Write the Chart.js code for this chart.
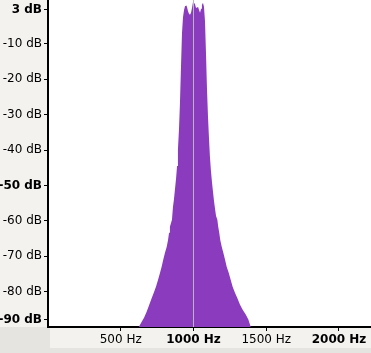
<!DOCTYPE html>
<html>
<head>
<meta charset="utf-8">
<script src="https://cdn.jsdelivr.net/npm/chart.js@4.4.1/dist/chart.umd.min.js"></script>
<style>
  html, body { margin: 0; padding: 0; background: #e6e4e1; }
  canvas { display: block; }
</style>
</head>
<body>
<canvas id="canvas" width="371" height="353"></canvas>
<script>
// spectrum: frequency (Hz) and level (dB)
var freqs = [615, 625, 644, 660, 678, 696, 713, 729, 742, 756, 770, 781, 792, 804, 816, 825, 832, 838, 852, 859,
  866, 873, 880, 887, 893, 900, 907, 914, 921, 928, 935, 942, 948, 955, 962, 969, 976, 983, 990, 997,
  1003, 1010, 1017, 1024, 1031, 1038, 1045, 1052, 1058, 1065, 1072, 1079, 1086, 1093, 1100, 1107, 1113, 1120, 1127, 1134,
  1141, 1148, 1155, 1164, 1170, 1177, 1184, 1194, 1205, 1217, 1228, 1242, 1256, 1269, 1285, 1301, 1320, 1338, 1359, 1377,
  1393, 1403];
var levels = [-92, -89.9, -88.5, -87.4, -85.7, -83.7, -81.8, -80.1, -78.6, -76.7, -74.7, -73.0, -71.0, -69.0, -67.3, -65.4, -63.4, -61.7, -59.7, -56.0,
  -53.8, -50.9, -48.1, -44.5, -39.9, -34.3, -26.7, -16.5, -6.9, -2.4, -0.4, 0.7, 1.0, 0.5, -0.7, -1.5, -1.8, -1.2, 0.2, 1.9,
  1.9, 1.3, 0.2, 0.2, 0.5, -0.4, -1.2, -0.1, 1.0, 1.6, 0.5, -3.5, -12.8, -23.0, -30.9, -37.1, -41.9, -45.9, -49.0, -51.8,
  -54.4, -56.6, -58.6, -59.7, -61.7, -63.4, -65.4, -67.3, -69.0, -71.0, -73.0, -74.7, -76.7, -78.6, -80.3, -81.8, -83.7, -85.1, -86.5, -87.9,
  -89.9, -92];

var cursorFreq = 1000;

var xTicks = [500, 1000, 1500, 2000];
var xBold = [1000, 2000];
var yTicks = [-0.4, -10, -20, -30, -40, -50, -60, -70, -80, -87.9];
var yLabels = ['3 dB', '-10 dB', '-20 dB', '-30 dB', '-40 dB', '-50 dB', '-60 dB', '-70 dB', '-80 dB', '-90 dB'];
var yBold = ['3 dB', '-50 dB', '-90 dB'];

var yMin = -90, yMax = 2.4;
var xMin = 0, xMax = 2220;

function yLabel(v) {
  var i = yTicks.indexOf(v);
  return i >= 0 ? yLabels[i] : '';
}

var panels = {
  id: 'panels',
  beforeDraw: function(chart) {
    var c = chart.ctx, a = chart.chartArea;
    c.save();
    c.fillStyle = '#e6e4e1';
    c.fillRect(0, 0, chart.width, chart.height);
    c.fillStyle = '#f4f2ef';
    c.fillRect(0, 0, a.left, a.bottom);
    c.fillRect(a.left + 2, a.bottom, a.right - a.left, 21);
    c.fillStyle = '#ffffff';
    c.fillRect(a.left, a.top, a.right - a.left, a.bottom - a.top);
    c.restore();
  }
};

function printChart() {
  var ctx = document.getElementById('canvas').getContext('2d');
  var spectrum = freqs.map(function(f, i) { return { x: f, y: levels[i] }; });

  new Chart(ctx, {
    type: 'line',
    data: {
      datasets: [{
        data: spectrum,
        backgroundColor: '#8a3bbe',
        borderColor: '#8a3bbe',
        borderWidth: 0,
        pointRadius: 0,
        fill: 'start',
        order: 2
      }, {
        data: [{ x: cursorFreq, y: yMin }, { x: cursorFreq, y: yMax }],
        borderColor: '#bcb6c2',
        borderWidth: 1,
        pointRadius: 0,
        fill: false,
        order: 1
      }]
    },
    options: {
      responsive: false,
      animation: false,
      devicePixelRatio: 1,
      layout: { padding: 0 },
      plugins: { legend: { display: false }, tooltip: { enabled: false } },
      scales: {
        x: {
          type: 'linear',
          min: xMin,
          max: xMax,
          afterBuildTicks: function(scale) {
            scale.ticks = xTicks.map(function(v) { return { value: v }; });
          },
          afterFit: function(scale) {
            scale.height = 26;
            scale.paddingLeft = 0;
            scale.paddingRight = 0;
          },
          grid: { drawOnChartArea: false, tickLength: 4, color: '#000' },
          border: { color: '#000', width: 2 },
          ticks: {
            padding: 2,
            maxRotation: 0,
            color: '#000',
            font: function(c) {
              var b = c.tick && xBold.indexOf(c.tick.value) >= 0;
              return { family: 'DejaVu Sans', size: 12, weight: b ? 'bold' : 'normal' };
            },
            callback: function(v) { return v + ' Hz'; }
          }
        },
        y: {
          min: yMin,
          max: yMax,
          afterBuildTicks: function(scale) {
            scale.ticks = yTicks.map(function(v) { return { value: v }; });
          },
          afterFit: function(scale) {
            scale.width = 48;
            scale.paddingTop = 0;
            scale.paddingBottom = 0;
          },
          grid: { drawOnChartArea: false, tickLength: 4, color: '#000' },
          border: { color: '#000', width: 2 },
          ticks: {
            padding: 2,
            color: '#000',
            font: function(c) {
              var b = c.tick && yBold.indexOf(yLabel(c.tick.value)) >= 0;
              return { family: 'DejaVu Sans', size: 12, weight: b ? 'bold' : 'normal' };
            },
            callback: function(v) { return yLabel(v); }
          }
        }
      }
    },
    plugins: [panels]
  });
}

printChart();
</script>
</body>
</html>
